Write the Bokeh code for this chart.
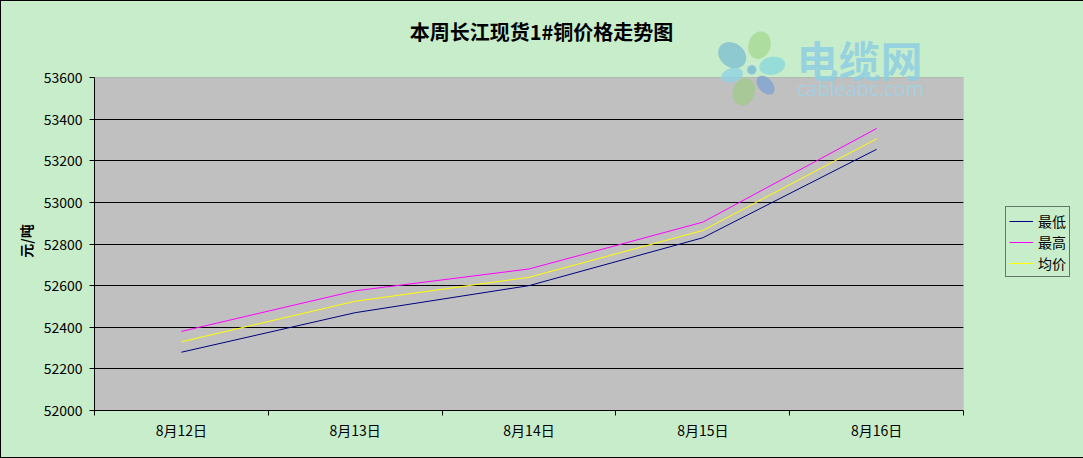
import numpy as np
from bokeh.plotting import figure
from bokeh.models import (Label, Legend, LegendItem, FixedTicker, LinearAxis, Grid,
                          Range1d, PolyAnnotation, BoxAnnotation)
from bokeh.embed import file_html
from bokeh.resources import INLINE

# ---- data ----
categories = ["8月12日", "8月13日", "8月14日", "8月15日", "8月16日"]
low = [52280, 52470, 52600, 52830, 53255]
high = [52380, 52575, 52680, 52905, 53355]
avg = [52330, 52525, 52640, 52865, 53305]
y_ticks = [52000, 52200, 52400, 52600, 52800, 53000, 53200, 53400, 53600]
series_names = ["最低", "最高", "均价"]
series_colors = ["#000080", "#FF00FF", "#FFFF00"]
title_text = "本周长江现货1#铜价格走势图"
y_label = "元/吨"

BG = "#C8EDCB"
FONT = "Noto Sans CJK SC"

# plot-area placement (page px); the frame is extended up to the top edge
FL, FR, PT, FB = 94, 963, 77, 410
FT = 1
y_lo, y_hi = y_ticks[0], y_ticks[-1]
y_top = y_lo + (FB - FT) * (y_hi - y_lo) / (FB - PT)

x_pos = [i + 0.5 for i in range(len(categories))]
n = len(categories)

p = figure(title=None, frame_width=FR - FL, frame_height=FB - FT,
           min_border_left=FL - 1, min_border_right=1082 - FR,
           min_border_top=0, min_border_bottom=457 - FB,
           x_range=Range1d(0, n), y_range=Range1d(y_lo, y_top),
           output_backend="svg", toolbar_location=None,
           x_axis_type=None, y_axis_type=None,
           background_fill_color=BG, border_fill_color=BG)
p.outline_line_color = None
p.outline_line_alpha = 0
p.styles = {"border": "1px solid #000000", "background-color": BG}

# grey plot area
p.add_layout(BoxAnnotation(left=0, right=n, bottom=y_lo, top=y_hi,
                           fill_color="#C0C0C0", fill_alpha=1,
                           line_color="#808080", line_width=1, level="image"))

# horizontal grid lines
p.add_layout(Grid(dimension=1, ticker=FixedTicker(ticks=y_ticks[1:-1]),
                  grid_line_color="black", grid_line_width=1))

# y axis (label padded with ideographic spaces so it sits at the plot-area centre)
yaxis = LinearAxis(ticker=FixedTicker(ticks=y_ticks, minor_ticks=[]), bounds=(y_lo, y_hi))
yaxis.axis_line_color = "black"
yaxis.major_tick_out = 5
yaxis.major_tick_in = 0
yaxis.minor_tick_out = 0
yaxis.major_label_standoff = 7
yaxis.major_label_text_font = FONT
yaxis.major_label_text_font_size = "14px"
yaxis.major_label_text_color = "black"
yaxis.axis_label = y_label + "\u3000" * 5
yaxis.axis_label_text_font = FONT
yaxis.axis_label_text_font_size = "14px"
yaxis.axis_label_text_font_style = "bold"
yaxis.axis_label_text_color = "black"
yaxis.axis_label_standoff = 5
p.add_layout(yaxis, "left")

# x axis: labels at category centres, tick marks at category boundaries
xaxis = LinearAxis(ticker=FixedTicker(ticks=x_pos, minor_ticks=list(range(n + 1))))
xaxis.major_label_overrides = {x: c for x, c in zip(x_pos, categories)}
xaxis.axis_line_color = "black"
xaxis.major_tick_out = 0
xaxis.major_tick_in = 0
xaxis.minor_tick_out = 5
xaxis.minor_tick_in = 0
xaxis.minor_tick_line_color = "black"
xaxis.major_label_standoff = 4
xaxis.major_label_text_font = FONT
xaxis.major_label_text_font_size = "14px"
xaxis.major_label_text_color = "black"
p.add_layout(xaxis, "below")

# lines
renderers = []
for vals, col in zip([low, high, avg], series_colors):
    r = p.line(x_pos, vals, line_color=col, line_width=1)
    renderers.append(r)

legend = Legend(items=[LegendItem(label=s, renderers=[r]) for s, r in zip(series_names, renderers)],
                location=(42, 133))
legend.border_line_color = "black"
legend.border_line_width = 1
legend.background_fill_color = BG
legend.background_fill_alpha = 1
legend.label_text_font = FONT
legend.label_text_font_size = "14px"
legend.label_text_color = "black"
legend.glyph_width = 24
legend.glyph_height = 14
legend.label_height = 21
legend.label_standoff = 5
legend.spacing = 0
legend.padding = 3
legend.margin = 0
p.add_layout(legend, "right")


def fx(px):  # page x -> frame-relative screen x
    return px - FL


def fy(py):  # page y -> frame-relative screen y (up)
    return FB - py


# title
p.add_layout(Label(x=fx(541), y=fy(31), x_units="screen", y_units="screen", text=title_text,
                   text_align="center", text_baseline="middle", text_font=FONT,
                   text_font_size="20px", text_font_style="bold", text_color="black"))

# watermark (decoration): flower logo + site name
CX, CY = 751.3, 69.3
petals = [  # centre (page px), radial / tangential half-axes, colour
    (759.0, 44.7, 14, 11, "#A6D893"),
    (731.7, 54.7, 15, 12, "#80BFCF"),
    (771.7, 65.3, 13, 9, "#89D7DC"),
    (731.7, 74.7, 11, 7, "#8ED2E2"),
    (743.3, 91.3, 14, 11, "#A2C98C"),
    (765.0, 84.7, 11, 7, "#7FA3D0"),
]
t = np.linspace(0, 2 * np.pi, 48)
for cx, cy, a, b, col in petals:
    ang = np.arctan2(cy - CY, cx - CX)
    px = cx + a * np.cos(t) * np.cos(ang) - b * np.sin(t) * np.sin(ang)
    py = cy + a * np.cos(t) * np.sin(ang) + b * np.sin(t) * np.cos(ang)
    p.add_layout(PolyAnnotation(xs=list(fx(px)), ys=list(fy(py)), xs_units="screen",
                                ys_units="screen", fill_color=col, fill_alpha=0.8,
                                line_color=None))
p.add_layout(PolyAnnotation(xs=list(fx(CX + 5 * np.cos(t))), ys=list(fy(CY + 5 * np.sin(t))),
                            xs_units="screen", ys_units="screen", fill_color="#7FBFD0",
                            fill_alpha=0.9, line_color="#D8F0EC", line_width=2))

p.add_layout(Label(x=fx(859), y=fy(58), x_units="screen", y_units="screen", text="电缆网",
                   text_align="center", text_baseline="middle", text_font=FONT,
                   text_font_size="42px", text_font_style="bold", text_color="#8ECFE2",
                   text_alpha=0.85))
p.add_layout(Label(x=fx(860), y=fy(88), x_units="screen", y_units="screen", text="cableabc.com",
                   text_align="center", text_baseline="middle", text_font="Open Sans",
                   text_font_size="20px", text_color="#9ED3E6", text_alpha=0.85))

open("out.html", "w").write(file_html(p, INLINE))
